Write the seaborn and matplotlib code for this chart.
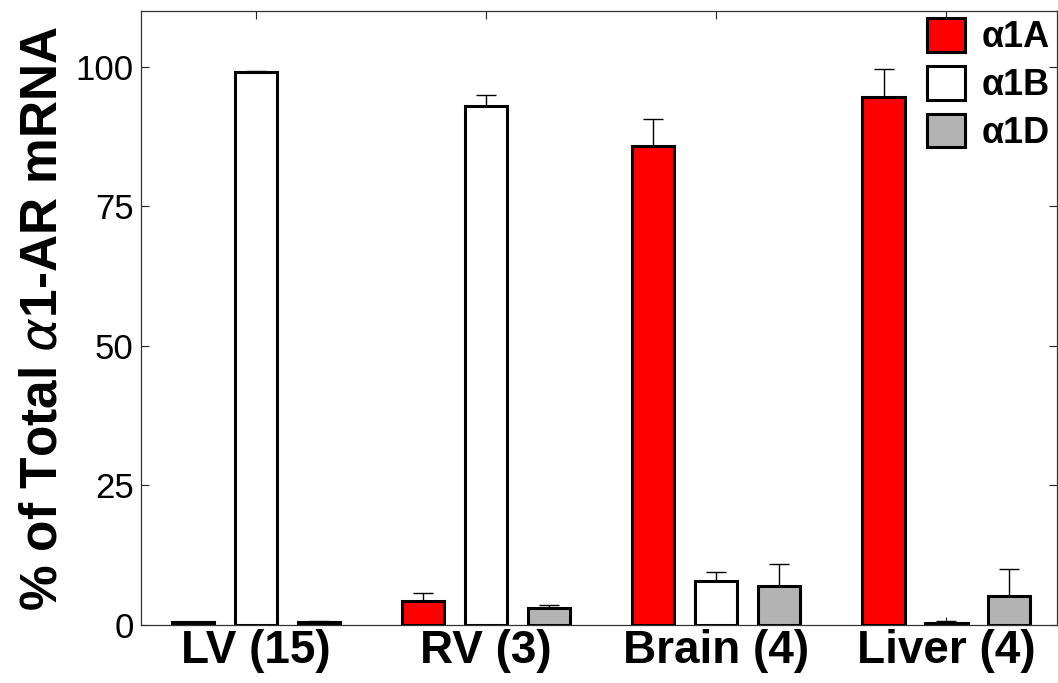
import numpy as np
import pandas as pd
import seaborn as sns
import matplotlib.pyplot as plt

# --- datos ---
TISSUES = ["LV (15)", "RV (3)", "Brain (4)", "Liver (4)"]
SUBTYPES = ["α1A", "α1B", "α1D"]
MEAN_A = [0.5, 4.3, 85.8, 94.5]
MEAN_B = [99.1, 93.0, 7.8, 0.4]
MEAN_D = [0.5, 3.0, 7.0, 5.2]
ERR_A = [0.1, 1.4, 4.9, 5.1]
ERR_B = [0.2, 2.0, 1.6, 0.3]
ERR_D = [0.2, 0.6, 4.0, 4.8]
COLORS = ["#ff0000", "#ffffff", "#b3b3b3"]

df = pd.DataFrame({
    "tissue": TISSUES * 3,
    "subtype": np.repeat(SUBTYPES, len(TISSUES)),
    "value": MEAN_A + MEAN_B + MEAN_D,
})
errs = [ERR_A, ERR_B, ERR_D]

sns.set_style("ticks")
plt.rcParams["font.family"] = ["Liberation Sans", "DejaVu Sans"]
plt.rcParams["text.color"] = "black"
plt.rcParams["axes.labelcolor"] = "black"

fig = plt.figure(figsize=(10.58, 6.83), dpi=100)
ax = fig.add_axes([0.133, 0.085, 0.866, 0.899])

sns.barplot(data=df, x="tissue", y="value", hue="subtype", order=TISSUES,
            hue_order=SUBTYPES, palette=COLORS, saturation=1, width=0.82,
            gap=0.33, edgecolor="black", linewidth=2.2, errorbar=None, ax=ax)

# barras de error solo hacia arriba, estilo MATLAB
for cont, e in zip(ax.containers, errs):
    xs = [p.get_x() + p.get_width() / 2 for p in cont.patches]
    ys = [p.get_height() for p in cont.patches]
    ax.errorbar(xs, ys, yerr=[np.zeros(len(e)), e], fmt="none",
                ecolor="black", elinewidth=1.0, capsize=7.5, capthick=1.0,
                zorder=1)

ax.set_xlim(-0.5, 3.48)
ax.set_ylim(0, 110)
ax.set_yticks([0, 25, 50, 75, 100])
ax.tick_params(direction="in", length=6, width=0.8, top=True, right=True,
               colors="#222222")
ax.tick_params(axis="y", labelsize=25, labelcolor="black", pad=5)
ax.tick_params(axis="x", labelsize=33, labelcolor="black", pad=3)
for lab in ax.get_xticklabels():
    lab.set_fontweight("bold")
for s in ax.spines.values():
    s.set_visible(True)
    s.set_linewidth(0.9)
    s.set_color("#333333")

ax.set_xlabel("")
ax.set_ylabel(r"% of Total $\alpha$1-AR mRNA", fontsize=37, fontweight="bold",
              labelpad=6)

leg = ax.legend(loc="upper right", frameon=False, fontsize=26,
                handlelength=1.05, handleheight=1.05, handletextpad=0.45,
                labelspacing=0.3, borderaxespad=0.0, borderpad=0.2)
for t in leg.get_texts():
    t.set_fontweight("bold")
for h in leg.legend_handles:
    h.set_edgecolor("black")
    h.set_linewidth(2.2)

fig.savefig("out.png", dpi=100)
